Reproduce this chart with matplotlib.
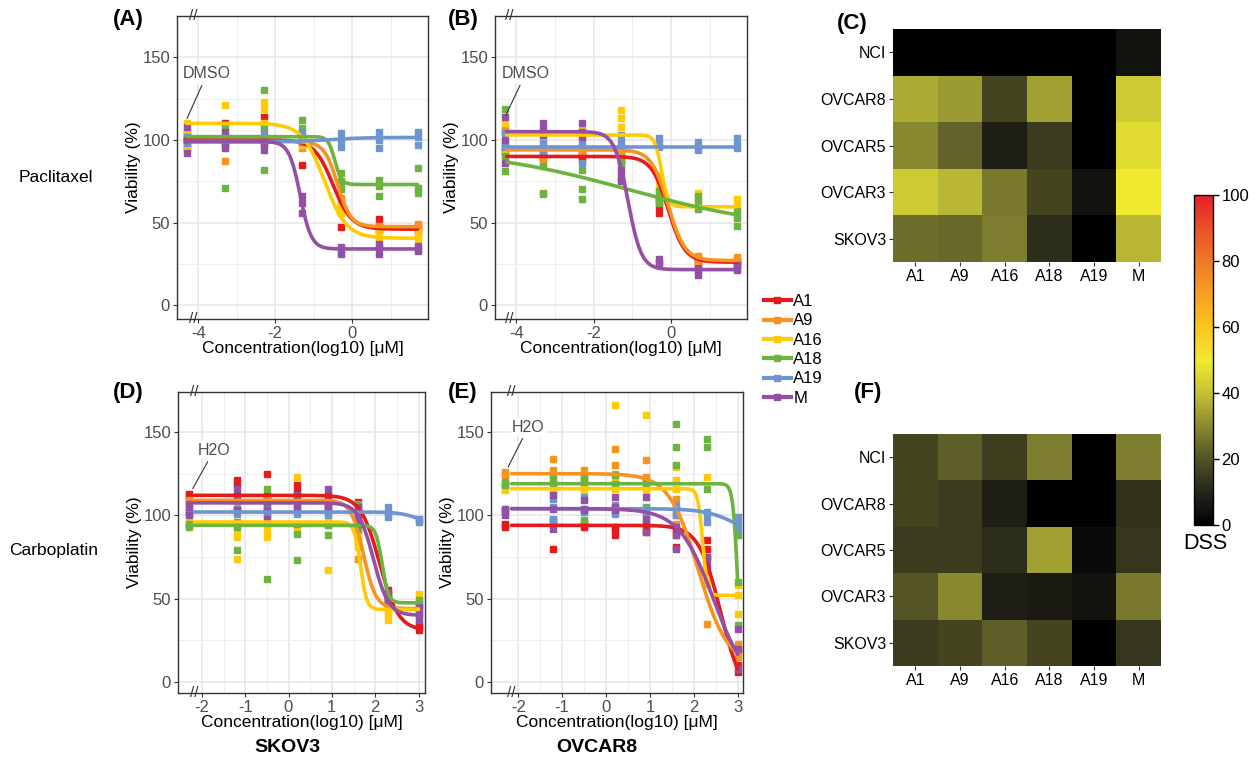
import numpy as np
import matplotlib
matplotlib.use('Agg')
import matplotlib.pyplot as plt
import matplotlib.transforms as mtransforms
from matplotlib.colors import LinearSegmentedColormap
from matplotlib.lines import Line2D

plt.rcParams['font.family'] = ['Liberation Sans', 'DejaVu Sans']
plt.rcParams['axes.unicode_minus'] = False

compounds = ['A1', 'A9', 'A16', 'A18', 'A19', 'M']
colors = ['#e41a1c', '#f7931e', '#ffcb05', '#6cb33f', '#6f95d1', '#9450a5']
cell_lines = ['NCI', 'OVCAR8', 'OVCAR5', 'OVCAR3', 'SKOV3']

# log10 concentration [uM]; first entry = vehicle control (DMSO / H2O)
x_pac = [-4.3, -3.3, -2.3, -1.3, -0.3, 0.7, 1.7]
x_carbo = [-2.3, -1.2, -0.5, 0.2, 0.9, 1.6, 2.3, 3.0]

# (A) paclitaxel, SKOV3 - replicates per concentration
A_A1 = [[105, 95, 100], [110, 100, 98], [114, 100, 99], [85, 98, 100], [47, 60, 58], [52, 48, 46], [47, 45, 48]]
A_A9 = [[103, 97, 100], [87, 100, 96], [100, 98, 101], [95, 100, 98], [65, 73, 62], [48, 46, 45], [49, 47, 46]]
A_A16 = [[110, 95, 104], [121, 105, 100], [123, 119, 110], [100, 98, 97], [56, 60, 58], [42, 40, 44], [42, 44, 40]]
A_A18 = [[102, 99, 101], [71, 108, 102], [130, 107, 82], [112, 107, 102], [80, 75, 70], [76, 66, 72], [83, 71, 68]]
A_A19 = [[100, 98, 102], [100, 99, 101], [104, 100, 98], [105, 102, 99], [104, 100, 96], [105, 95, 100], [105, 97, 102]]
A_M = [[108, 92, 100], [105, 95, 99], [94, 97, 100], [66, 56, 62], [31, 33, 35], [35, 31, 37], [36, 34, 33]]
# fitted LL.4 curves: top, bottom, log IC50, hill
A_fit = [[100, 46, -0.5, 1.8], [99, 47.5, -0.38, 2.5], [110, 40.5, -0.72, 1.5],
         [102, 73, -0.45, 5], [99, 101.5, -0.5, 1], [99, 34, -1.35, 3]]

# (B) paclitaxel, OVCAR8
B_A1 = [[105, 95, 93], [91, 89, 90], [91, 88, 90], [88, 90, 87], [56, 64, 60], [25, 27, 28], [26, 27, 25]]
B_A9 = [[108, 94, 92], [95, 87, 93], [96, 94, 92], [92, 94, 91], [68, 63, 65], [29, 30, 27], [29, 28, 27]]
B_A16 = [[110, 97, 92], [103, 101, 104], [106, 103, 102], [118, 113, 108], [78, 72, 75], [68, 61, 59], [64, 54, 60]]
B_A18 = [[119, 81, 90], [84, 68, 67], [82, 70, 64], [88, 84, 76], [69, 62, 65], [66, 58, 63], [57, 53, 48]]
B_A19 = [[104, 99, 96], [96, 93, 98], [86, 96, 98], [103, 96, 99], [101, 96, 98], [99, 94, 96], [101, 95, 97]]
B_M = [[114, 86, 100], [110, 106, 103], [110, 105, 102], [82, 75, 78], [28, 25, 26], [21, 18, 22], [24, 21, 22]]
B_fit = [[90, 26, -0.07, 2], [94, 27, -0.07, 2], [103, 59.5, -0.24, 5],
         [95, 45, -1.1, 0.22], [96, 96, 0, 1], [105, 21.5, -1.11, 2.5]]

# (D) carboplatin, SKOV3
D_A1 = [[113, 110, 112], [121, 118, 112], [125, 112, 110], [118, 114, 112], [110, 112, 108], [108, 100, 104], [52, 55, 50], [33, 31, 35]]
D_A9 = [[109, 107, 108], [108, 104, 110], [108, 105, 110], [108, 110, 106], [105, 108, 103], [74, 85, 90], [48, 44, 46], [42, 45, 40]]
D_A16 = [[96, 94, 95], [91, 87, 74], [91, 87, 97], [123, 95, 93], [67, 94, 96], [88, 81, 84], [40, 37, 42], [53, 44, 43]]
D_A18 = [[93, 95, 94], [79, 93, 96], [116, 62, 100], [89, 73, 95], [88, 94, 95], [107, 96, 92], [48, 50, 53], [49, 47, 48]]
D_A19 = [[102, 103, 101], [103, 101, 104], [103, 105, 101], [102, 104, 101], [104, 102, 100], [101, 103, 100], [105, 99, 101], [98, 96, 97]]
D_M = [[100, 107, 105], [116, 103, 110], [108, 98, 103], [112, 108, 104], [116, 107, 104], [105, 99, 95], [54, 50, 48], [45, 37, 41]]
D_fit = [[112, 31, 2.1, 2], [109, 44, 1.73, 3], [96, 43.5, 1.66, 6],
         [94, 47.5, 2.16, 6], [102, 94, 3.0, 2], [107.5, 40, 1.96, 2.5]]

# (E) carboplatin, OVCAR8
E_A1 = [[94, 95, 93], [80, 97, 95], [94, 96, 93], [91, 88, 93], [90, 95, 92], [81, 88, 92], [85, 80, 75], [19, 10, 6]]
E_A9 = [[125, 124, 126], [134, 127, 125], [127, 124, 121], [140, 130, 125], [133, 123, 120], [110, 100, 95], [65, 59, 35], [23, 18, 15]]
E_A16 = [[116, 117, 115], [116, 118, 114], [116, 118, 115], [166, 120, 116], [160, 117, 115], [129, 121, 116], [123, 60, 65], [58, 41, 52]]
E_A18 = [[119, 120, 118], [122, 119, 97], [123, 120, 97], [124, 119, 118], [105, 119, 120], [155, 141, 130], [146, 141, 116], [88, 60, 34]]
E_A19 = [[104, 103, 102], [110, 105, 98], [111, 104, 102], [101, 106, 103], [104, 100, 103], [106, 100, 104], [102, 96, 100], [99, 92, 95]]
E_M = [[100, 104, 103], [92, 104, 112], [109, 103, 104], [111, 105, 103], [111, 98, 90], [93, 88, 80], [75, 71, 68], [32, 8, 20]]
E_fit = [[94, -10, 2.61, 1.75], [125, 10, 2.1, 1.3], [116, 52, 2.2, 8],
         [119, 0, 3.0, 8], [104, 85, 3.0, 1.2], [104, -5, 2.45, 1.1]]

# DSS heatmaps (rows = cell_lines, cols = compounds)
C_dss = [[0, 0, 0, 0, 0, 5],
         [36, 33, 17, 34, 0, 42],
         [30, 23, 8, 15, 0, 46],
         [42, 38, 27, 17, 5, 50],
         [25, 24, 28, 12, 0, 38]]
F_dss = [[17, 22, 16, 28, 0, 28],
         [17, 15, 8, 0, 0, 13],
         [15, 15, 12, 34, 3, 14],
         [20, 30, 8, 7, 5, 27],
         [15, 17, 22, 17, 0, 14]]

W, H = 1259, 760


def box(l, t, r, b):
    return [l / W, 1 - b / H, (r - l) / W, (b - t) / H]


def ll4(x, top, bottom, mid, hill):
    return bottom + (top - bottom) / (1 + 10 ** ((x - mid) * hill))


def dose_panel(ax, xs, reps, fits, xlim, ylim, xticks, xminor, ctrl, lab_xy, lab_tip, brk, x0):
    ax.set_xlim(xlim)
    ax.set_ylim(ylim)
    for vals, c in zip(reps, colors):
        vals = np.array(vals, dtype=float)
        for j in range(vals.shape[1]):
            ax.plot(xs, vals[:, j], 's', color=c, ms=5.0, zorder=3)
    for fit, c in zip(fits, colors):
        xx = np.linspace(x0, xs[-1], 300)
        ax.plot(xx, ll4(xx, *fit), color=c, lw=2.6, zorder=4, solid_capstyle='round')
    ax.set_xticks(xticks)
    ax.set_xticks(xminor, minor=True)
    ax.set_yticks([0, 50, 100, 150])
    ax.set_yticks([25, 75, 125], minor=True)
    ax.grid(which='major', color='#e8e8e8', lw=1.2, zorder=0)
    ax.grid(which='minor', color='#eeeeee', lw=0.7, zorder=0)
    ax.set_axisbelow(True)
    ax.tick_params(which='major', length=3, color='#333333', labelcolor='#4d4d4d', labelsize=12, pad=2)
    ax.tick_params(which='minor', length=0)
    for s in ax.spines.values():
        s.set_color('#333333')
        s.set_linewidth(1.0)
    ax.set_xlabel('Concentration(log10) [\u03bcM]', fontsize=12.5, labelpad=0)
    ax.set_ylabel('Viability (%)', fontsize=12.5, labelpad=1)
    ax.annotate(ctrl, xy=lab_tip, xytext=lab_xy, ha='center', va='center',
                fontsize=11.5, color='#4d4d4d', zorder=6,
                bbox=dict(fc='white', ec='none', pad=1),
                arrowprops=dict(arrowstyle='-', color='#333333', lw=0.8, shrinkA=2, shrinkB=0))
    tr = mtransforms.blended_transform_factory(ax.transData, ax.transAxes)
    for yy in (0, 1):
        ax.text(brk, yy, '//', transform=tr, ha='center', va='center', fontsize=11,
                color='#333333', zorder=7, clip_on=False)


def heat_panel(ax, vals, cmap):
    im = ax.imshow(np.array(vals, dtype=float), cmap=cmap, vmin=0, vmax=100, aspect='auto')
    ax.set_xticks(range(len(compounds)), compounds)
    ax.set_yticks(range(len(cell_lines)), cell_lines)
    ax.tick_params(length=3, color='#333333', labelsize=11.5, pad=2)
    for s in ax.spines.values():
        s.set_visible(False)
    return im


dss_cmap = LinearSegmentedColormap.from_list('dss', [
    (0.00, '#000000'), (0.05, '#141410'), (0.10, '#26261a'), (0.15, '#3c3c1e'),
    (0.20, '#545426'), (0.25, '#6e6e2c'), (0.30, '#8a8a32'), (0.35, '#a6a634'),
    (0.40, '#c4c234'), (0.45, '#dcd832'), (0.50, '#f0ea30'), (0.60, '#fbc520'),
    (0.70, '#f6a020'), (0.80, '#ee7a26'), (0.90, '#ea5028'), (1.00, '#e4202a')])

fig = plt.figure(figsize=(W / 100, H / 100), dpi=100)

axA = fig.add_axes(box(177, 16, 428, 319))
dose_panel(axA, x_pac, [A_A1, A_A9, A_A16, A_A18, A_A19, A_M], A_fit,
           (-4.55, 1.97), (-8.4, 175), [-4, -2, 0], [-3, -1, 1], 'DMSO',
           (-3.77, 140), (-4.29, 113), -4.13, -4.3)

axB = fig.add_axes(box(495, 16, 747, 319))
dose_panel(axB, x_pac, [B_A1, B_A9, B_A16, B_A18, B_A19, B_M], B_fit,
           (-4.55, 1.97), (-8.4, 175), [-4, -2, 0], [-3, -1, 1], 'DMSO',
           (-3.76, 140), (-4.27, 115), -4.17, -4.25)

axD = fig.add_axes(box(178, 392, 425, 693))
dose_panel(axD, x_carbo, [D_A1, D_A9, D_A16, D_A18, D_A19, D_M], D_fit,
           (-2.55, 3.15), (-6.6, 174), [-2, -1, 0, 1, 2, 3], [-1.5, -0.5, 0.5, 1.5, 2.5],
           'H2O', (-1.72, 139), (-2.21, 116), -2.17, -2.17)

axE = fig.add_axes(box(491, 392, 743, 693))
dose_panel(axE, x_carbo, [E_A1, E_A9, E_A16, E_A18, E_A19, E_M], E_fit,
           (-2.62, 3.12), (-6.6, 174), [-2, -1, 0, 1, 2, 3], [-1.5, -0.5, 0.5, 1.5, 2.5],
           'H2O', (-1.77, 153), (-2.23, 129), -2.15, -2.15)

axC = fig.add_axes(box(893, 29, 1161, 262))
im = heat_panel(axC, C_dss, dss_cmap)
axF = fig.add_axes(box(893, 434, 1161, 666))
heat_panel(axF, F_dss, dss_cmap)

cax = fig.add_axes(box(1194, 195, 1213, 525))
cb = fig.colorbar(im, cax=cax, ticks=[0, 20, 40, 60, 80, 100])
cb.outline.set_linewidth(1.0)
cb.outline.set_edgecolor('black')
cax.tick_params(length=4, width=1, labelsize=12, pad=2)
cax.text(0.6, -0.025, 'DSS', transform=cax.transAxes, ha='center', va='top', fontsize=15.5)

handles = [Line2D([], [], color=c, lw=3, marker='s', ms=5) for c in colors]
fig.legend(handles, compounds, loc='upper left', bbox_to_anchor=(764 / W, 1 - 294 / H),
           frameon=False, fontsize=12, handlelength=1.6, handletextpad=0.15,
           labelspacing=0.26, borderpad=0, borderaxespad=0)

for lab, x, y in [('(A)', 128, 20), ('(B)', 463, 20), ('(C)', 852, 24),
                  ('(D)', 128, 392), ('(E)', 463, 392), ('(F)', 868, 392)]:
    fig.text(x / W, 1 - y / H, lab, ha='center', va='center', fontsize=16, fontweight='bold')

fig.text(56 / W, 1 - 178 / H, 'Paclitaxel', ha='center', va='center', fontsize=12.5)
fig.text(54 / W, 1 - 550 / H, 'Carboplatin', ha='center', va='center', fontsize=12.5)
fig.text(287 / W, 1 - 748 / H, 'SKOV3', ha='center', va='center', fontsize=14, fontweight='bold')
fig.text(597 / W, 1 - 748 / H, 'OVCAR8', ha='center', va='center', fontsize=14, fontweight='bold')

fig.savefig('out.png', dpi=100)
